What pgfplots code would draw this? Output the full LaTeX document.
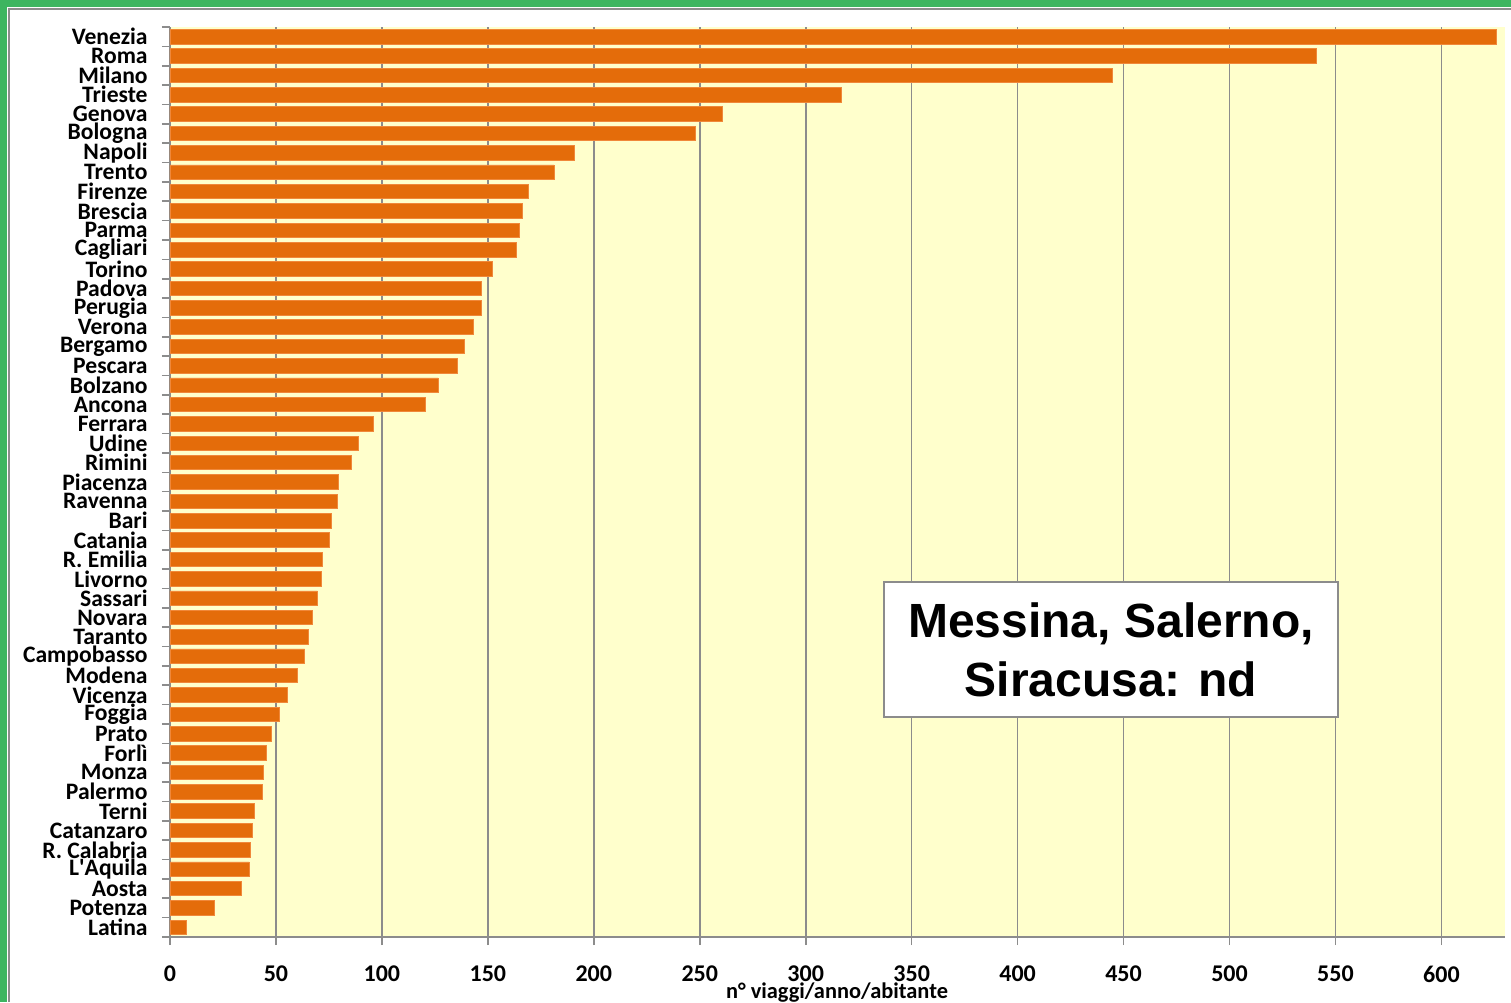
\documentclass[border=0pt]{standalone}
\usepackage{pgfplots}
\pgfplotsset{compat=1.18}
\usepackage{fontspec}
\setmainfont{Carlito}
\newfontfamily\arialfont{Liberation Sans}
\definecolor{barorange}{HTML}{E46C0A}
\definecolor{baredge}{HTML}{F0883A}
\definecolor{bgyellow}{HTML}{FFFFCC}
\definecolor{framegreen}{HTML}{3DB560}
\definecolor{gridgray}{HTML}{8C8C8C}
\pgfplotstableread{
y val
1 7.8
2 21
3 33.5
4 37.3
5 37.9
6 38.8
7 39.8
8 43.5
9 44.2
10 45.6
11 48
12 51.5
13 55.5
14 60
15 63.5
16 65.5
17 67.2
18 69.5
19 71.3
20 72
21 75.3
22 76
23 79
24 79.6
25 85.5
26 89
27 96
28 120.4
29 126.5
30 135.5
31 139
32 143.3
33 146.8
34 147
35 152.2
36 163.4
37 164.9
38 166.3
39 169.3
40 181.2
41 190.8
42 247.8
43 260.5
44 316.8
45 444.5
46 540.8
47 626
}\datatable
\begin{document}
\begin{tikzpicture}
\path[use as bounding box] (0,0) rectangle (755.5pt,501pt);
\fill[framegreen] (0,497.5pt) rectangle (755.5pt,501pt);
\fill[framegreen] (0,0) rectangle (3.5pt,501pt);
\draw[gridgray,line width=0.6pt] (4.5pt,0) -- (4.5pt,496.5pt) -- (755.5pt,496.5pt);
\begin{axis}[
  at={(85pt,32.5pt)}, anchor=south west,
  scale only axis, width=667.5pt, height=455pt,
  xmin=0, xmax=630, ymin=0.5, ymax=47.5,
  xbar, bar width=0.75,
  axis background/.style={fill=bgyellow},
  axis x line*=bottom, axis y line*=left,
  axis line style={draw=gridgray, line width=0.8pt, -},
  tick align=outside,
  xtick={0,50,...,600},
  xmajorgrids, major grid style={draw=gridgray, line width=0.8pt},
  major x tick style={draw=gridgray, line width=0.8pt},
  major tick length=4pt,
  ytick={1,...,47},
  major y tick style={draw=none},
  minor ytick={0.5,1.5,...,47.5},
  minor y tick style={draw=gridgray, line width=0.8pt},
  minor tick length=4pt,
  yticklabels={Latina, Potenza, Aosta, L\textquotesingle Aquila, R. Calabria, Catanzaro, Terni, Palermo, Monza, Forlì, Prato, Foggia, Vicenza, Modena, Campobasso, Taranto, Novara, Sassari, Livorno, R. Emilia, Catania, Bari, Ravenna, Piacenza, Rimini, Udine, Ferrara, Ancona, Bolzano, Pescara, Bergamo, Verona, Perugia, Padova, Torino, Cagliari, Parma, Brescia, Firenze, Trento, Napoli, Bologna, Genova, Trieste, Milano, Roma, Venezia},
  yticklabel style={font=\fontsize{11.8}{12}\selectfont\bfseries, xshift=-7pt, inner sep=0pt},
  xticklabel style={font=\fontsize{12}{12}\selectfont\bfseries, yshift=-7pt},
  /pgf/number format/assume math mode=true,
]
\addplot[fill=barorange, draw=baredge, line width=0.4pt] table[x=val, y=y] {\datatable};
\end{axis}
\node[font=\fontsize{11.2}{12}\selectfont\bfseries] at (418.5pt,4.8pt) {n° viaggi/anno/abitante};
\draw[gridgray, fill=white, line width=0.6pt] (442pt,142.5pt) rectangle (669pt,210pt);
\node[font=\arialfont\fontsize{24}{29.5}\selectfont\bfseries, align=center] at (555.5pt,176.25pt) {Messina, Salerno,\\Siracusa: nd};
\end{tikzpicture}
\end{document}
